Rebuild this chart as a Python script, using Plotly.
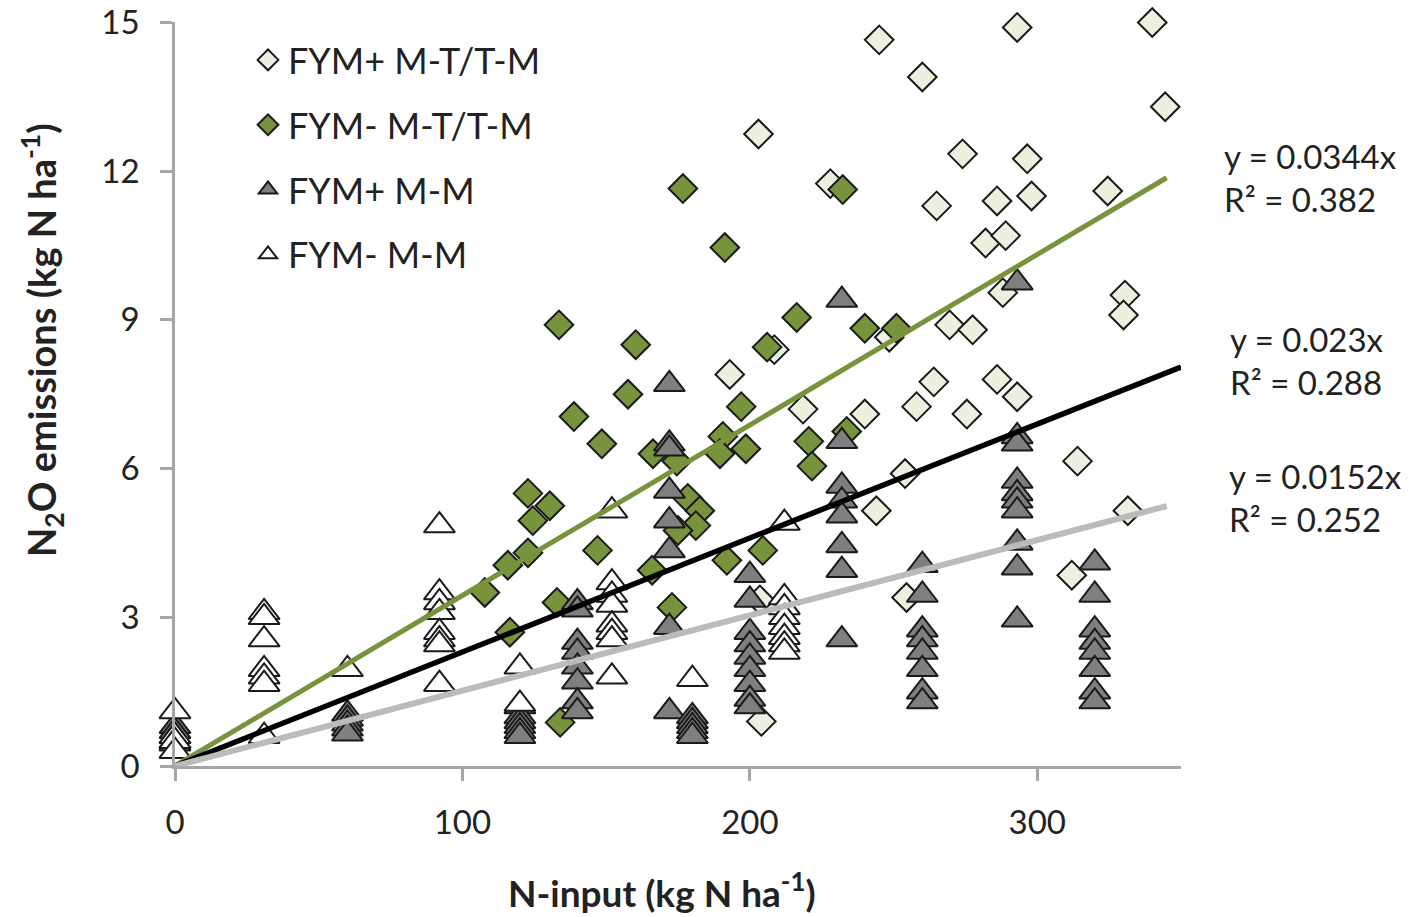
import plotly.graph_objects as go

# ---------------- data ----------------
series_names = ["FYM+ M-T/T-M", "FYM- M-T/T-M", "FYM+ M-M", "FYM- M-M"]

fymp_mt_x = [245, 260, 293, 340, 344.5, 203, 274, 296.5, 228, 265, 286, 298, 324.5,
             282, 289, 288, 330.5, 330, 248.5, 269.5, 277.5, 193, 208.5, 218.5, 264,
             258, 275.5, 286, 293, 240, 314, 254, 244, 331.5, 254.5, 312, 203.5, 204]
fymp_mt_y = [14.65, 13.9, 14.9, 15.0, 13.3, 12.75, 12.35, 12.25, 11.75, 11.3, 11.4, 11.5, 11.6,
             10.55, 10.7, 9.55, 9.5, 9.1, 8.65, 8.9, 8.8, 7.9, 8.4, 7.2, 7.75,
             7.25, 7.1, 7.8, 7.45, 7.1, 6.15, 5.9, 5.15, 5.15, 3.4, 3.85, 3.35, 0.9]

fymm_mt_x = [133.6, 160.3, 216.3, 206, 157.6, 138.8, 148.5, 197, 166.3, 174.6, 190.6, 189.6,
             198.6, 220.5, 221.6, 122.8, 130.4, 124.5, 178.4, 182.6, 181.2, 175, 115.8,
             122.8, 147, 166, 192, 204.5, 107.8, 116.5, 132.9, 172.9, 134, 240, 251,
             233.7, 232.3, 176.7, 191.3]
fymm_mt_y = [8.9, 8.5, 9.05, 8.45, 7.5, 7.05, 6.5, 7.25, 6.3, 6.15, 6.65, 6.3,
             6.4, 6.55, 6.05, 5.5, 5.25, 4.95, 5.4, 5.15, 4.85, 4.75, 4.05,
             4.3, 4.35, 3.95, 4.15, 4.35, 3.5, 2.7, 3.3, 3.2, 0.88, 8.83, 8.83,
             6.75, 11.63, 11.65, 10.46]

fymp_mm_x = [0, 0, 0, 0, 0,
             60, 60, 60, 60, 60,
             120, 120, 120, 120, 120, 120,
             140, 140, 140, 140, 140, 140, 140, 140,
             172, 172, 172, 172, 172, 172, 172, 172,
             180, 180, 180, 180, 180,
             200, 200, 200, 200, 200, 200, 200, 200, 200,
             232, 232, 232, 232, 232, 232, 232, 232,
             260, 260, 260, 260, 260, 260, 260, 260,
             293, 293, 293, 293, 293, 293, 293, 293, 293, 293,
             320, 320, 320, 320, 320, 320, 320, 320]
fymp_mm_y = [0.8, 0.7, 0.6, 0.5, 0.45,
             1.05, 0.95, 0.85, 0.75, 0.65,
             1.2, 1.0, 0.9, 0.8, 0.7, 0.6,
             3.3, 3.15, 2.5, 2.3, 2.0, 1.7, 1.3, 1.1,
             7.7, 6.5, 6.4, 5.55, 4.95, 4.35, 2.8, 1.1,
             1.0, 0.9, 0.8, 0.7, 0.6,
             3.85, 3.35, 2.7, 2.45, 2.2, 1.95, 1.65, 1.35, 1.2,
             9.4, 6.55, 5.65, 5.35, 5.05, 4.45, 3.95, 2.55,
             4.05, 3.45, 2.75, 2.55, 2.3, 1.95, 1.5, 1.3,
             9.75, 6.65, 6.5, 5.75, 5.5, 5.35, 5.15, 4.5, 4.0, 2.95,
             4.1, 3.45, 2.75, 2.5, 2.3, 1.95, 1.5, 1.3]

fymm_mm_x = [0, 0, 0, 0,
             31, 31, 31, 31, 31, 31, 31,
             60,
             92, 92, 92, 92, 92, 92, 92, 92,
             120, 120,
             152, 152, 152, 152, 152, 152, 152, 152,
             180,
             212, 212, 212, 212, 212, 212, 212, 212]
fymm_mm_y = [1.1, 0.6, 0.5, 0.3,
             3.1, 3.0, 2.55, 1.95, 1.8, 1.65, 0.6,
             1.95,
             4.85, 3.5, 3.3, 3.1, 2.7, 2.55, 2.45, 1.65,
             2.0, 1.25,
             5.15, 3.7, 3.45, 3.25, 2.85, 2.7, 2.55, 1.8,
             1.75,
             4.9, 3.4, 3.2, 3.0, 2.8, 2.6, 2.45, 2.3]

# linear trends through origin
trend_slopes = [0.0344, 0.023, 0.0152]
trend_r2 = [0.382, 0.288, 0.252]
trend_xmax = [345, 350, 345]

x_ticks = [0, 100, 200, 300]
y_ticks = [0, 3, 6, 9, 12, 15]

# ---------------- figure ----------------
FONT = "Lato"
W, H = 1427, 917
ML, MR, MT, MB = 175, 246, 22, 151
PW, PH = W - ML - MR, H - MT - MB

def px_x(p):
    return (p - ML) / PW

def px_y(p):
    return (H - MB - p) / PH

fig = go.Figure()

styles = [
    dict(symbol="diamond", color="#EBF1DE", size=22),
    dict(symbol="diamond", color="#77933C", size=22),
    dict(symbol="triangle-up", color="#7F7F7F", size=27),
    dict(symbol="triangle-up", color="#FFFFFF", size=27),
]
data_xy = [(fymp_mt_x, fymp_mt_y), (fymm_mt_x, fymm_mt_y),
           (fymp_mm_x, fymp_mm_y), (fymm_mm_x, fymm_mm_y)]

for name, (xs, ys), st in zip(series_names, data_xy, styles):
    fig.add_trace(go.Scatter(
        x=xs, y=ys, mode="markers", name=name, legendgroup=name,
        cliponaxis=False,
        marker=dict(symbol=st["symbol"], size=st["size"], color=st["color"],
                    line=dict(color="#1A1A1A", width=2)),
    ))

trend_colors = ["#77933C", "#000000", "#BBBBBB"]
trend_widths = [5, 5.5, 6]
for s, xm, c, w in zip(trend_slopes, trend_xmax, trend_colors, trend_widths):
    fig.add_trace(go.Scatter(
        x=[0, xm], y=[0, s * xm], mode="lines", showlegend=False,
        line=dict(color=c, width=w), hoverinfo="skip", cliponaxis=False,
    ))

axis_common = dict(
    showgrid=False, zeroline=False, showline=True,
    linecolor="#A6A6A6", linewidth=2.5,
    ticks="outside", ticklen=12, tickwidth=2.5, tickcolor="#A6A6A6",
    tickfont=dict(family=FONT, size=33, color="#222222"),
    ticklabeloverflow="allow", automargin=False,
)
fig.update_xaxes(range=[0, 350], tickvals=x_ticks, ticklabelstandoff=14, **axis_common)
fig.update_yaxes(range=[0, 15.01], tickvals=y_ticks, ticklabelstandoff=14, **axis_common)

# equation labels
eq_left_px = [1222, 1228, 1227]
eq_center_px = [177, 360, 497]
for s, r2, lx, cy in zip(trend_slopes, trend_r2, eq_left_px, eq_center_px):
    fig.add_annotation(
        text=f"y = {s:g}x<br>R² = {r2:.3f}", xref="paper", yref="paper",
        x=px_x(lx), y=px_y(cy), xanchor="left", yanchor="middle", align="left",
        showarrow=False, font=dict(family=FONT, size=33, color="#222222"),
    )

# axis titles
fig.add_annotation(
    text="N-input (kg N ha<sup>-1</sup>)", xref="paper", yref="paper",
    x=px_x(662), y=px_y(890), xanchor="center", yanchor="middle", showarrow=False,
    font=dict(family=FONT, size=37, color="#222222", weight="bold"),
)
fig.add_annotation(
    text="N<sub>2</sub>O emissions (kg N ha<sup>-1</sup>)", xref="paper", yref="paper",
    x=px_x(42), y=px_y(340), xanchor="center", yanchor="middle", showarrow=False,
    textangle=-90, font=dict(family=FONT, size=38, color="#222222", weight="bold"),
)

fig.update_layout(
    width=W, height=H,
    margin=dict(l=ML, r=MR, t=MT, b=MB, pad=0, autoexpand=False),
    plot_bgcolor="white", paper_bgcolor="white",
    font=dict(family=FONT, color="#222222"),
    legend=dict(
        x=px_x(248), y=px_y(30), xanchor="left", yanchor="top",
        font=dict(family=FONT, size=36, color="#222222"),
        bgcolor="rgba(0,0,0,0)", tracegroupgap=15,
    ),
)

fig.write_html("out.html", config={"displayModeBar": False},
               post_script="document.body.style.margin='0';")
